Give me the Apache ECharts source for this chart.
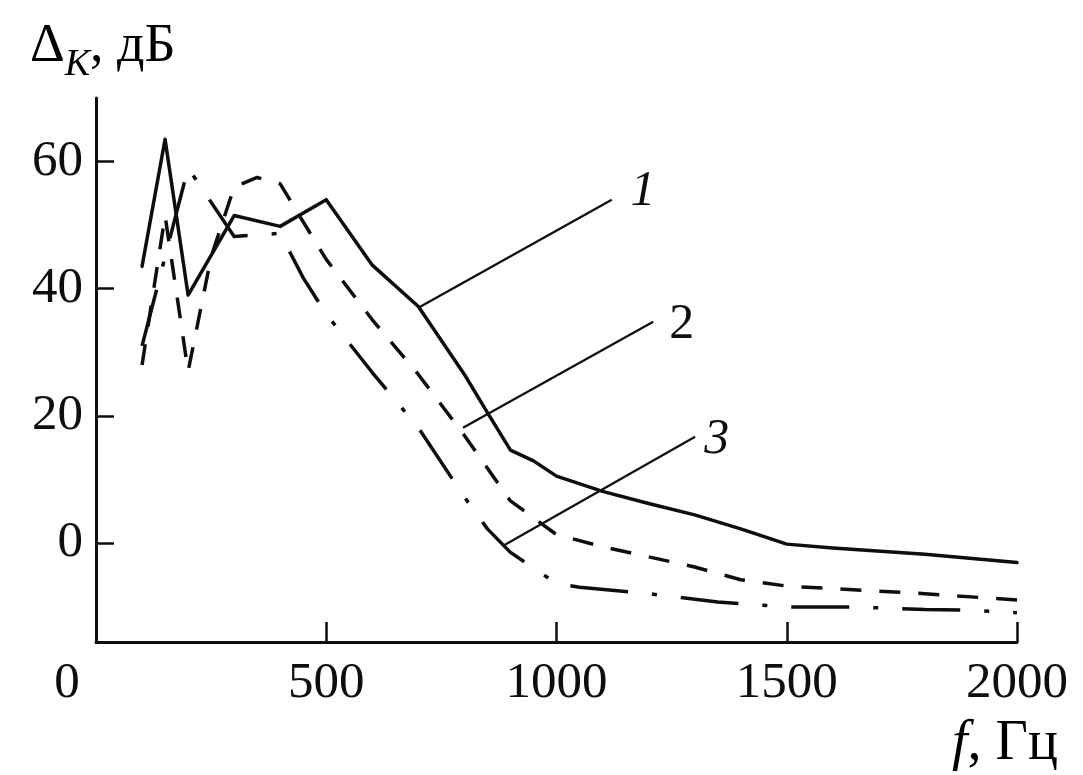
<!DOCTYPE html>
<html><head><meta charset="utf-8">
<script src="https://cdn.jsdelivr.net/npm/echarts@6/dist/echarts.min.js"></script>
<style>html,body{margin:0;padding:0;background:#fff}#c{width:1083px;height:775px}</style>
</head><body><div id="c"></div>
<script>
// Curve 1 (solid)
const freq1 = [100,150,200,300,400,500,600,700,800,850,900,950,1000,1100,1200,1300,1400,1500,1600,1800,2000];
const db1   = [43.5,63.5,39,51.5,49.8,54,43.7,37.2,26.5,20.5,14.6,12.9,10.5,8.1,6.2,4.4,2.2,-0.2,-0.8,-1.8,-3.1];
// Curve 2 (dashed)
const freq2 = [100,150,200,250,300,350,400,450,500,600,700,800,900,1000,1100,1200,1300,1400,1500,1600,1700,1800,1900,2000];
const db2   = [28,51.5,27,45,56,57.5,56.5,50.5,44.6,35.1,26.5,16.9,6.6,1.3,-0.6,-2.2,-3.8,-5.8,-6.8,-7.2,-7.6,-8,-8.5,-9];
// Curve 3 (dash-dot)
const freq3 = [100,150,200,300,400,450,500,600,700,800,850,900,1000,1050,1200,1350,1500,1650,1800,1900,2000];
const db3   = [31,45,59,48.2,48.7,41.7,36,26.8,18.1,7.2,2.2,-1.5,-6.4,-7,-8,-9.3,-10.1,-10.1,-10.5,-10.6,-11];

const xTickValues = [0,500,1000,1500,2000];
const yTickValues = [0,20,40,60];
const curveLabels = ['1','2','3'];
const labelAnchors = [[1188,55.2],[1272,34.3],[1348,16.2]];
const leaderLines = [
  [[703,37.1],[1120,54.0]],
  [[797,18.1],[1210,34.8]],
  [[888,-0.3],[1301,16.7]]
];
const yTitle = 'Δ';
const yTitleSub = 'K';
const yTitleUnit = ', дБ';
const xTitleVar = 'f';
const xTitleUnit = ', Гц';

const FONT = '"Liberation Serif","DejaVu Serif",serif';
const INK = '#0e0e0e';
const zip = (a,b) => a.map((v,i)=>[v,b[i]]);

const series = [
  {type:'line', data: zip(freq1,db1), symbol:'none', lineStyle:{color:INK,width:3.5,type:'solid',cap:'round',join:'round'}},
  {type:'line', data: zip(freq2,db2), symbol:'none', lineStyle:{color:INK,width:3.5,type:[21,18],cap:'butt',join:'round'}},
  {type:'line', data: zip(freq3,db3), symbol:'none', lineStyle:{color:INK,width:3.5,type:[58,24,5,24],cap:'butt',join:'round'}}
];
leaderLines.forEach(l => series.push({type:'line', data:l, symbol:'none', silent:true, lineStyle:{color:INK,width:2.2}}));
series.push({
  type:'scatter', symbolSize:0, silent:true, itemStyle:{opacity:1},
  data: labelAnchors.map((p,i)=>({value:p, name:curveLabels[i],
    label:{show:true, position:'inside', formatter:curveLabels[i], fontFamily:FONT, fontSize:50,
      fontStyle: i===1 ? 'normal':'italic', color:INK, opacity:1}}))
});

const chart = echarts.init(document.getElementById('c'), null, {renderer:'canvas'});
chart.setOption({
  animation:false,
  backgroundColor:'#ffffff',
  grid:{left:96, right:66, top:98, bottom:133, containLabel:false},
  xAxis:{
    type:'value', min:0, max:2000, interval:500,
    axisLine:{onZero:false, lineStyle:{color:INK,width:3}},
    axisTick:{show:true, inside:true, length:20, lineStyle:{color:INK,width:2.5}},
    axisLabel:{
      customValues: xTickValues,
      margin:16, fontFamily:FONT, fontSize:51, color:INK,
      formatter: v => v===0 ? '{z|0}' : String(v),
      rich:{z:{fontFamily:FONT,fontSize:51,color:INK,padding:[0,58,0,0]}}
    },
    splitLine:{show:false}
  },
  yAxis:{
    type:'value', min:-15.6, max:70,
    axisLine:{onZero:false, lineStyle:{color:INK,width:3}},
    axisTick:{show:true, inside:true, length:18, customValues:yTickValues, lineStyle:{color:INK,width:2.5}},
    axisLabel:{customValues:yTickValues, margin:13, fontFamily:FONT, fontSize:51, color:INK},
    splitLine:{show:false}
  },
  graphic:[
    {type:'text', left:30, top:20, style:{
      text:'{a|'+yTitle+'}{k|'+yTitleSub+'}{a|'+yTitleUnit+'}',
      rich:{
        a:{fontFamily:FONT,fontSize:54,color:INK,verticalAlign:'bottom',lineHeight:58},
        k:{fontFamily:FONT,fontSize:38,fontStyle:'italic',color:INK,verticalAlign:'bottom',lineHeight:44,padding:[0,0,-10,0]}
      }}},
    {type:'text', left:952, top:716, style:{
      text:'{i|'+xTitleVar+'}{a|'+xTitleUnit+'}',
      rich:{
        i:{fontFamily:FONT,fontSize:56,fontStyle:'italic',color:INK},
        a:{fontFamily:FONT,fontSize:56,color:INK}
      }}}
  ],
  series: series
});
</script></body></html>
